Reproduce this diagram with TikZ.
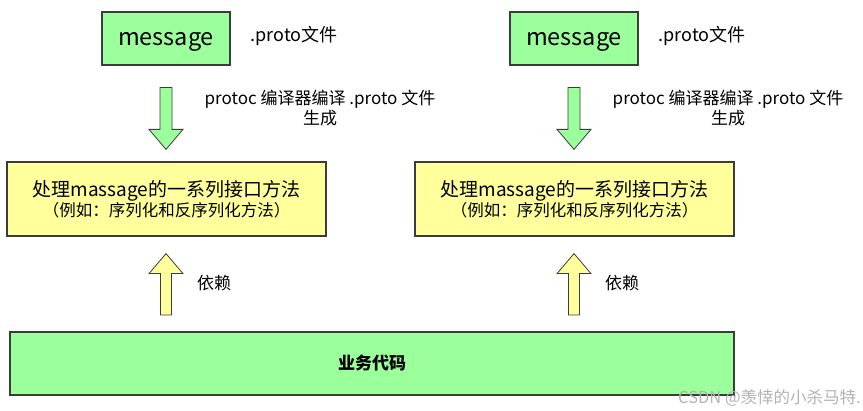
\documentclass[tikz,border=0pt]{standalone}
\usepackage{fontspec}
\setmainfont{Noto Sans CJK SC}
\usetikzlibrary{calc}
\definecolor{boxgreen}{RGB}{155,255,155}
\definecolor{boxyellow}{RGB}{255,255,155}
\definecolor{edge}{RGB}{60,60,60}
\tikzset{
  greenbox/.style={draw=edge, line width=1.2pt, fill=boxgreen, inner sep=0pt},
  yellowbox/.style={draw=edge, line width=1.2pt, fill=boxyellow, inner sep=0pt, align=center},
  label17/.style={inner sep=0pt, font=\fontsize{17pt}{20pt}\selectfont},
  greenarrow/.style={draw=edge, line width=0.8pt, fill=boxgreen},
  yellowarrow/.style={draw=edge, line width=0.8pt, fill=boxyellow},
}
\begin{document}
\begin{tikzpicture}[x=1pt, y=-1pt]
\useasboundingbox (0,0) rectangle (863,411);

% business code layer at the bottom
\node[greenbox, minimum width=724pt, minimum height=63pt,
      font=\fontsize{17pt}{20pt}\selectfont\bfseries] (biz) at (372,363.5) {业务代码};

\foreach \c/\s in {166/L, 574/R} {
  % message definition
  \node[greenbox, minimum width=128pt, minimum height=53pt, text height=16pt, text depth=2pt,
        font=\fontsize{23.5pt}{26pt}\selectfont] (msg\s) at (\c,38.5) {message};
  \node[inner sep=0pt, anchor=west, font=\fontsize{18pt}{20pt}\selectfont] (file\s)
        at ($(msg\s.east)+(20,-3)$) {.proto文件};

  % generated interface methods
  \node[yellowbox, minimum width=319pt, minimum height=74pt,
        font=\fontsize{16.5pt}{20pt}\selectfont] (proc\s) at (\c+0.5,199)
        {{\fontsize{19pt}{20pt}\selectfont 处理massage的一系列接口方法}\\（例如：序列化和反序列化方法）};

  % compile step: message -> methods
  \coordinate (dtop\s) at ($(msg\s.south)+(0,22)$);
  \coordinate (dtip\s) at ($(proc\s.north)+(-0.5,-12)$);
  \draw[greenarrow]
    ($(dtop\s)+(-6,0)$) -- ($(dtop\s)+(6,0)$) -- ($(dtip\s)+(6,-20)$) -- ($(dtip\s)+(17,-20)$)
    -- (dtip\s) -- ($(dtip\s)+(-17,-20)$) -- ($(dtip\s)+(-6,-20)$) -- cycle;
  \node[label17, align=center] (cmp\s) at (\c+154,108) {protoc 编译器编译 .proto 文件\\生成};

  % dependency: business code -> methods
  \coordinate (ubot\s) at (\c,315);
  \coordinate (utip\s) at ($(proc\s.south)+(-0.5,17)$);
  \draw[yellowarrow]
    ($(ubot\s)+(-5.5,0)$) -- ($(ubot\s)+(5.5,0)$) -- ($(utip\s)+(5.5,20)$) -- ($(utip\s)+(17,20)$)
    -- (utip\s) -- ($(utip\s)+(-17,20)$) -- ($(utip\s)+(-5.5,20)$) -- cycle;
  \node[label17, anchor=west] (dep\s) at (\c+31,283) {依赖};
}

% watermark
\node[inner sep=0pt, anchor=east, text=black!30, font=\fontsize{16.5pt}{18pt}\selectfont] (mark) at (861,398) {CSDN @羡悻的小杀马特.};
\end{tikzpicture}
\end{document}
